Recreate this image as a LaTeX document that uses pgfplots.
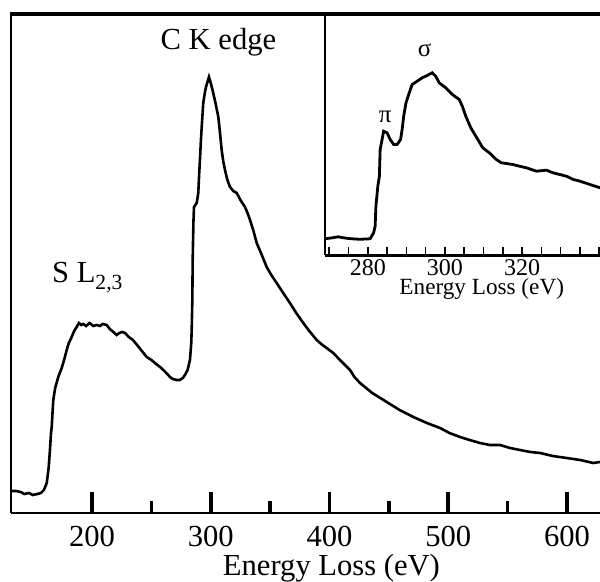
\documentclass[border=0pt]{standalone}
\usepackage{pgfplots}
\pgfplotsset{compat=1.18}
\usepackage{fontspec}
\setmainfont{Liberation Serif}
\begin{document}
\begin{tikzpicture}
\begin{axis}[
  scale only axis,
  width=294.5pt, height=250pt,
  at={(0,0)}, anchor=south west,
  xmin=131.8, xmax=627.8, ymin=0, ymax=500,
  axis x line=bottom, axis y line=left,
  axis line style={line width=1.3pt, -},
  xtick pos=bottom,
  ytick=\empty,
  xtick={200,300,400,500,600},
  minor xtick={250,350,450,550},
  tick align=inside,
  major tick length=10.3pt, minor tick length=6pt,
  tick style={line width=1.8pt, black},
  /pgf/number format/assume math mode=true,
  xticklabel style={font=\fontsize{15.3}{18}\selectfont, anchor=base, yshift=-17pt},
  xlabel={Energy Loss (eV)},
  xlabel style={font=\fontsize{15.3}{18}\selectfont, at={(axis description cs:0.5441,0)}, anchor=base, yshift=-31.5pt},
  clip=false,
]
\addplot[black, line width=1.3pt] coordinates {
(131.8,22) (136,22) (140,21) (143,19) (147,20) (150,18) (154,19) (157,20)
(159.5,23) (161.9,30) (163.5,45) (164.6,63) (165.5,80) (166.1,86) (167.0,105)
(167.4,113) (169,125) (171.6,136) (174.5,145) (176.5,153) (178.7,163) (180.5,170)
(182.9,176) (185,182) (187.1,186) (189,190) (191,188) (192.7,189) (195,187)
(198,190) (201,187) (204,188) (206.7,187) (209,189) (212.4,188) (215,184)
(218,181) (220.8,178) (223,180) (225.5,181) (227.8,180) (231,176) (234.5,173)
(238,168) (242,162) (246.1,156) (250,153) (254,149) (257.3,146) (261,142)
(265.7,136) (268,134) (271.3,133) (274,133) (276.5,135) (278.3,138) (280.5,143)
(282.5,153) (283.6,170) (284.0,185) (284.5,213) (284.8,253) (285.4,290) (285.9,306)
(288.2,310) (289.5,320) (290.3,340) (290.9,353) (291.7,372) (292.4,386) (293.7,410)
(295,420) (296.0,426) (297.5,432) (298.5,436) (300,430) (302.1,420) (304,410)
(306.4,396) (307.8,380) (309.2,363) (310.5,352) (312.0,343) (314,333) (316.2,326)
(319,322) (321.9,320) (325,313) (328.8,306) (331,300) (333.1,293) (336,282)
(338.7,270) (343,258) (347.1,246) (351,238) (355.5,230) (361,220) (366.7,210)
(372,200) (377.9,190) (383,182) (389.2,173) (393,169) (397.6,165) (403.2,160)
(408.8,153) (413,148) (417.3,143) (421,136) (425.7,130) (436,120) (448.2,111)
(459,103) (470.6,96) (482,90) (493.1,85) (501,80) (509.9,76) (518,73)
(526.7,70) (535,68) (543.6,68) (552,65) (560.4,63) (569,61) (577.3,60)
(588,57) (599.7,55) (611,53) (622.1,50) (627.8,51)
};
\node[anchor=base, font=\fontsize{15.3}{18}\selectfont] at (axis cs:306.5,463) {C K edge};
\node[anchor=base west, inner sep=0pt, font=\fontsize{15.3}{18}\selectfont] at (axis cs:166.1,230) {S L{\fontsize{10.8}{12}\selectfont\raisebox{-3.5pt}{2,3}}};
\end{axis}
\begin{axis}[
  scale only axis,
  width=137.5pt, height=121.25pt,
  at={(157pt,128.75pt)}, anchor=south west,
  xmin=268.9, xmax=340.2, ymin=0, ymax=242.5,
  axis x line=bottom, axis y line=left,
  axis line style={line width=1.1pt, -},
  xtick pos=bottom,
  ytick=\empty,
  xtick={280,300,320},
  minor xtick={270,275,285,290,295,305,310,315,325,330,335,340},
  tick align=inside,
  major tick length=4pt, minor tick length=4pt,
  tick style={line width=0.8pt, black},
  /pgf/number format/assume math mode=true,
  xticklabel style={font=\fontsize{12}{14}\selectfont, anchor=base, yshift=-10pt},
  xlabel={Energy Loss (eV)},
  xlabel style={font=\fontsize{11.6}{14}\selectfont, at={(axis description cs:0.570,0)}, anchor=base, yshift=-19.6pt},
  clip=false,
]
\addplot[black, line width=1.4pt] coordinates {
(268.9,16.7) (270.5,17.5) (272.3,18.7) (274,17.5) (275.8,16.7) (278,16.2) (280.6,16.7)
(281.5,22.7) (281.9,29.3) (282.1,49.3) (282.6,69.3) (283.0,79.3) (283.2,106)
(283.7,116) (284.1,124.3) (285.0,122.7) (285.8,116) (286.7,111) (287.6,111)
(288.5,116) (288.9,126) (289.3,139.3) (289.9,152.7) (290.6,161) (291.5,171)
(292.8,174.3) (294.1,177.7) (295.4,180) (296.7,182.7) (297.6,179.3) (298.5,172.7)
(300.2,167.7) (301.9,161) (303.7,156) (304.5,149.3) (305.4,139.3) (306.7,127.7)
(308.0,119.3) (309.8,107.7) (311.5,102.7) (313.3,96) (314.6,92.7) (317.6,91)
(319.3,89.3) (321.1,87.7) (323.7,84.3) (326.3,85.3) (328.0,82.7) (331.5,79.3)
(333.3,76) (335.0,74.3) (337.6,71) (340.2,67.7)
};
\node[anchor=base, font=\fontsize{12.5}{14}\selectfont] at (axis cs:294.7,199) {σ};
\node[anchor=base, font=\fontsize{12.5}{14}\selectfont] at (axis cs:284.5,133) {π};
\end{axis}
\draw[line width=1.8pt] (-0.65pt,249.6pt) -- (294.5pt,249.6pt);
\pgfresetboundingbox
\path[use as bounding box] (-5.5pt,-34.25pt) rectangle (294.5pt,256.5pt);
\end{tikzpicture}
\end{document}
